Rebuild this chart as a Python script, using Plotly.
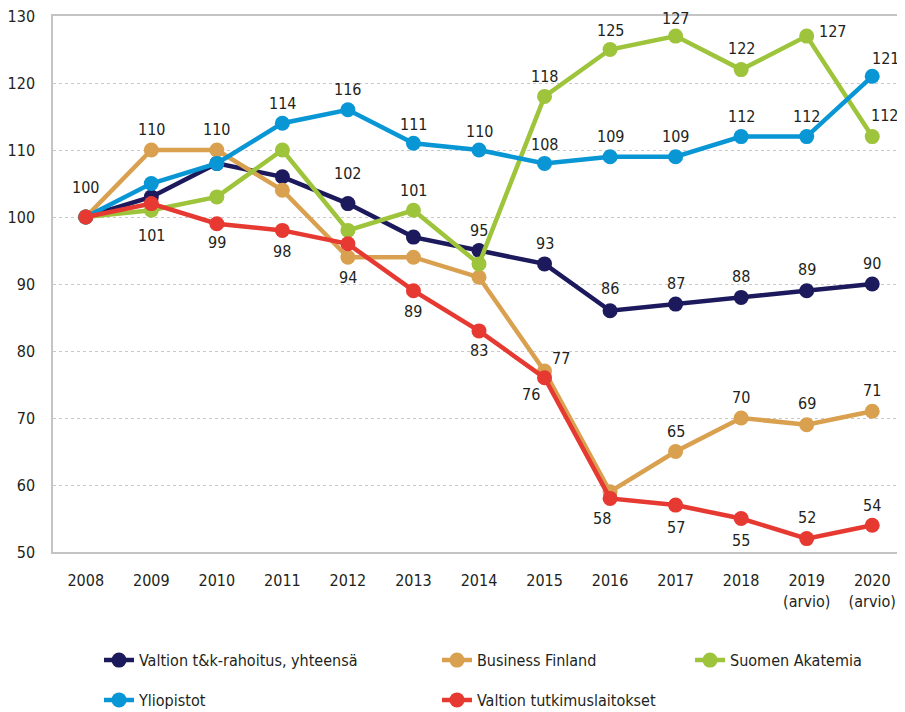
import plotly.graph_objects as go

years = ["2008", "2009", "2010", "2011", "2012", "2013", "2014", "2015",
         "2016", "2017", "2018", "2019<br>(arvio)", "2020<br>(arvio)"]

total = [100, 103, 108, 106, 102, 97, 95, 93, 86, 87, 88, 89, 90]
business_finland = [100, 110, 110, 104, 94, 94, 91, 77, 59, 65, 70, 69, 71]
akatemia = [100, 101, 103, 110, 98, 101, 93, 118, 125, 127, 122, 127, 112]
yliopistot = [100, 105, 108, 114, 116, 111, 110, 108, 109, 109, 112, 112, 121]
laitokset = [100, 102, 99, 98, 96, 89, 83, 76, 58, 57, 55, 52, 54]

names = ["Valtion t&k-rahoitus, yhteensä", "Business Finland", "Suomen Akatemia",
         "Yliopistot", "Valtion tutkimuslaitokset"]
series = [total, business_finland, akatemia, yliopistot, laitokset]
colors = ["#1c1a5c", "#d9a14f", "#9dc43b", "#0896d5", "#e63931"]
legends = ["legend", "legend2", "legend3", "legend", "legend2"]

# label placement per series: index -> (xshift, yshift) in px
label_pos = [
    {0: (0, 30), 4: (0, 30), 6: (0, 20), 7: (0, 20), 8: (0, 22), 9: (0, 21),
     10: (0, 21), 11: (0, 21), 12: (0, 21)},
    {1: (0, 21), 2: (0, 21), 4: (0, -20), 7: (16, 13), 9: (0, 20), 10: (0, 21),
     11: (0, 21), 12: (0, 21)},
    {1: (0, -25), 5: (0, 20), 7: (0, 20), 8: (0, 19), 9: (0, 18), 10: (0, 21),
     11: (26, 5), 12: (12, 21)},
    {3: (0, 20), 4: (0, 20), 5: (0, 19), 6: (0, 19), 7: (0, 19), 8: (0, 20),
     9: (0, 20), 10: (0, 20), 11: (0, 20), 12: (13, 18)},
    {2: (0, -19), 3: (0, -21), 5: (0, -21), 6: (0, -20), 7: (-14, -17),
     8: (-8, -20), 9: (0, -22), 10: (0, -22), 11: (0, 21), 12: (0, 20)},
]

FONT = "Liberation Sans Narrow, DejaVu Sans Condensed, sans-serif"
FS = 16
TXT = "#231f20"

fig = go.Figure()
annotations = []
for i, (name, vals, col, lg) in enumerate(zip(names, series, colors, legends)):
    fig.add_trace(go.Scatter(
        x=years, y=vals, name=name, mode="lines+markers",
        line=dict(color=col, width=4.5),
        marker=dict(color=col, size=15),
        legend=lg, legendgroup=name,
    ))
    for idx, (dx, dy) in label_pos[i].items():
        annotations.append(dict(
            x=idx, y=vals[idx], xref="x", yref="y",
            text=str(vals[idx]), showarrow=False,
            xshift=dx, yshift=dy, font=dict(family=FONT, size=FS, color=TXT),
        ))

legend_common = dict(
    orientation="v", yanchor="top", xanchor="left", bgcolor="rgba(0,0,0,0)",
    font=dict(family=FONT, size=FS, color=TXT), tracegroupgap=16,
    yref="container", y=0.0977,
)
fig.update_layout(
    width=897, height=704,
    margin=dict(l=45, r=0, t=8, b=160),
    plot_bgcolor="white", paper_bgcolor="white",
    font=dict(family=FONT, size=FS, color=TXT),
    showlegend=True,
    legend=dict(x=0.054, **legend_common),
    legend2=dict(x=0.4507, **legend_common),
    legend3=dict(x=0.7477, **legend_common),
    annotations=annotations,
    xaxis=dict(
        type="category", range=[-0.5, 12.5], showgrid=False,
        showline=True, linecolor="#c4c4c4", linewidth=1.5, mirror=True,
        ticks="", ticklabelstandoff=13,
        tickfont=dict(family=FONT, size=FS, color=TXT),
    ),
    yaxis=dict(
        range=[50, 130], tickvals=[50, 60, 70, 80, 90, 100, 110, 120, 130],
        showgrid=True, gridcolor="#c8c8c8", griddash="dot", gridwidth=1,
        showline=True, linecolor="#c4c4c4", linewidth=1.5,
        zeroline=False, ticks="", ticklabelstandoff=13,
        ticklabeloverflow="allow",
        tickfont=dict(family=FONT, size=FS, color=TXT),
    ),
)

fig.write_html("out.html")
